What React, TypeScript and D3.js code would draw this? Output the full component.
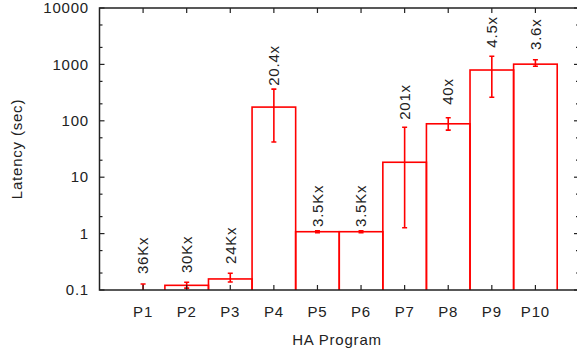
import React from 'react';
import * as d3 from 'd3';

const programs = ['P1', 'P2', 'P3', 'P4', 'P5', 'P6', 'P7', 'P8', 'P9', 'P10'];
const latency = [0.08, 0.121, 0.157, 175, 1.08, 1.08, 18.4, 88.5, 795, 1010];
const errLow = [0.05, 0.108, 0.139, 42, 1.04, 1.04, 1.27, 68.4, 261, 925];
const errHigh = [0.128, 0.137, 0.198, 365, 1.12, 1.12, 76.7, 113, 1393, 1212];
const speedup = ['36Kx', '30Kx', '24Kx', '20.4x', '3.5Kx', '3.5Kx', '201x', '40x', '4.5x', '3.6x'];
const labelAt = [0.192, 0.2, 0.289, 417, 1.31, 1.31, 104, 192, 1977, 1800];
const yTicks = [0.1, 1, 10, 100, 1000, 10000];

const W = 577;
const H = 354;
const left = 99.5;
const right = 579;
const top = 8;
const bottom = 290;
const font = '"Liberation Sans", Arial, sans-serif';
const red = '#ff0000';
const ink = '#222';

export default function App() {
  const x = d3.scaleLinear().domain([0, programs.length + 1]).range([left, right]);
  const y = d3.scaleLog().domain([0.1, 10000]).range([bottom, top]);
  const minor: number[] = [];
  yTicks.slice(0, -1).forEach(t => minor.push(t * 2, t * 5));
  const cap = 2.5;

  return (
    <svg width={W} height={H} style={{ position: 'absolute', left: 0, top: 0, background: '#fff' }}
      fontFamily={font} fontSize={15} letterSpacing={0.8}>
      <defs>
        <clipPath id="plot">
          <rect x={left} y={top} width={right - left} height={bottom - top} />
        </clipPath>
      </defs>

      {/* bars and error bars */}
      <g clipPath="url(#plot)" fill="none" stroke={red} strokeWidth={1.6}>
        {latency.map((v, i) => (
          <rect key={'b' + i} x={x(i + 0.5)} y={y(v)} width={x(i + 1.5) - x(i + 0.5)} height={bottom + 20 - y(v)} />
        ))}
        {latency.map((v, i) => (
          <g key={'e' + i}>
            <line x1={x(i + 1)} x2={x(i + 1)} y1={y(errLow[i])} y2={y(errHigh[i])} />
            <line x1={x(i + 1) - cap} x2={x(i + 1) + cap} y1={y(errLow[i])} y2={y(errLow[i])} />
            <line x1={x(i + 1) - cap} x2={x(i + 1) + cap} y1={y(errHigh[i])} y2={y(errHigh[i])} />
          </g>
        ))}
      </g>

      {/* border */}
      <rect x={left} y={top} width={right - left} height={bottom - top} fill="none" stroke={ink} strokeWidth={1.5} />

      {/* y ticks */}
      <g stroke={ink} strokeWidth={1.2}>
        {yTicks.map(t => (
          <g key={'yt' + t}>
            <line x1={left} x2={left + 5} y1={y(t)} y2={y(t)} />
            <line x1={right} x2={right - 5} y1={y(t)} y2={y(t)} />
          </g>
        ))}
        {minor.map(t => (
          <g key={'ym' + t}>
            <line x1={left} x2={left + 3} y1={y(t)} y2={y(t)} />
            <line x1={right} x2={right - 3} y1={y(t)} y2={y(t)} />
          </g>
        ))}
        {programs.map((p, i) => (
          <g key={'xt' + p}>
            <line x1={x(i + 1)} x2={x(i + 1)} y1={bottom} y2={bottom - 5} />
            <line x1={x(i + 1)} x2={x(i + 1)} y1={top} y2={top + 5} />
          </g>
        ))}
      </g>

      <g fill={ink}>
        {yTicks.map(t => (
          <text key={'yl' + t} x={89} y={y(t)} dy="0.35em" textAnchor="end">{d3.format('~g')(t)}</text>
        ))}
        {programs.map((p, i) => (
          <text key={'xl' + p} x={x(i + 1)} y={317} textAnchor="middle">{p}</text>
        ))}
        {speedup.map((s, i) => (
          <text key={'sl' + i} transform={`translate(${x(i + 1)},${y(labelAt[i])}) rotate(-90)`} dy="0.35em">{s}</text>
        ))}
        <text x={337} y={345} textAnchor="middle">HA Program</text>
        <text transform={`translate(17,${(top + bottom) / 2}) rotate(-90)`} dy="0.35em" textAnchor="middle">Latency (sec)</text>
      </g>
    </svg>
  );
}
